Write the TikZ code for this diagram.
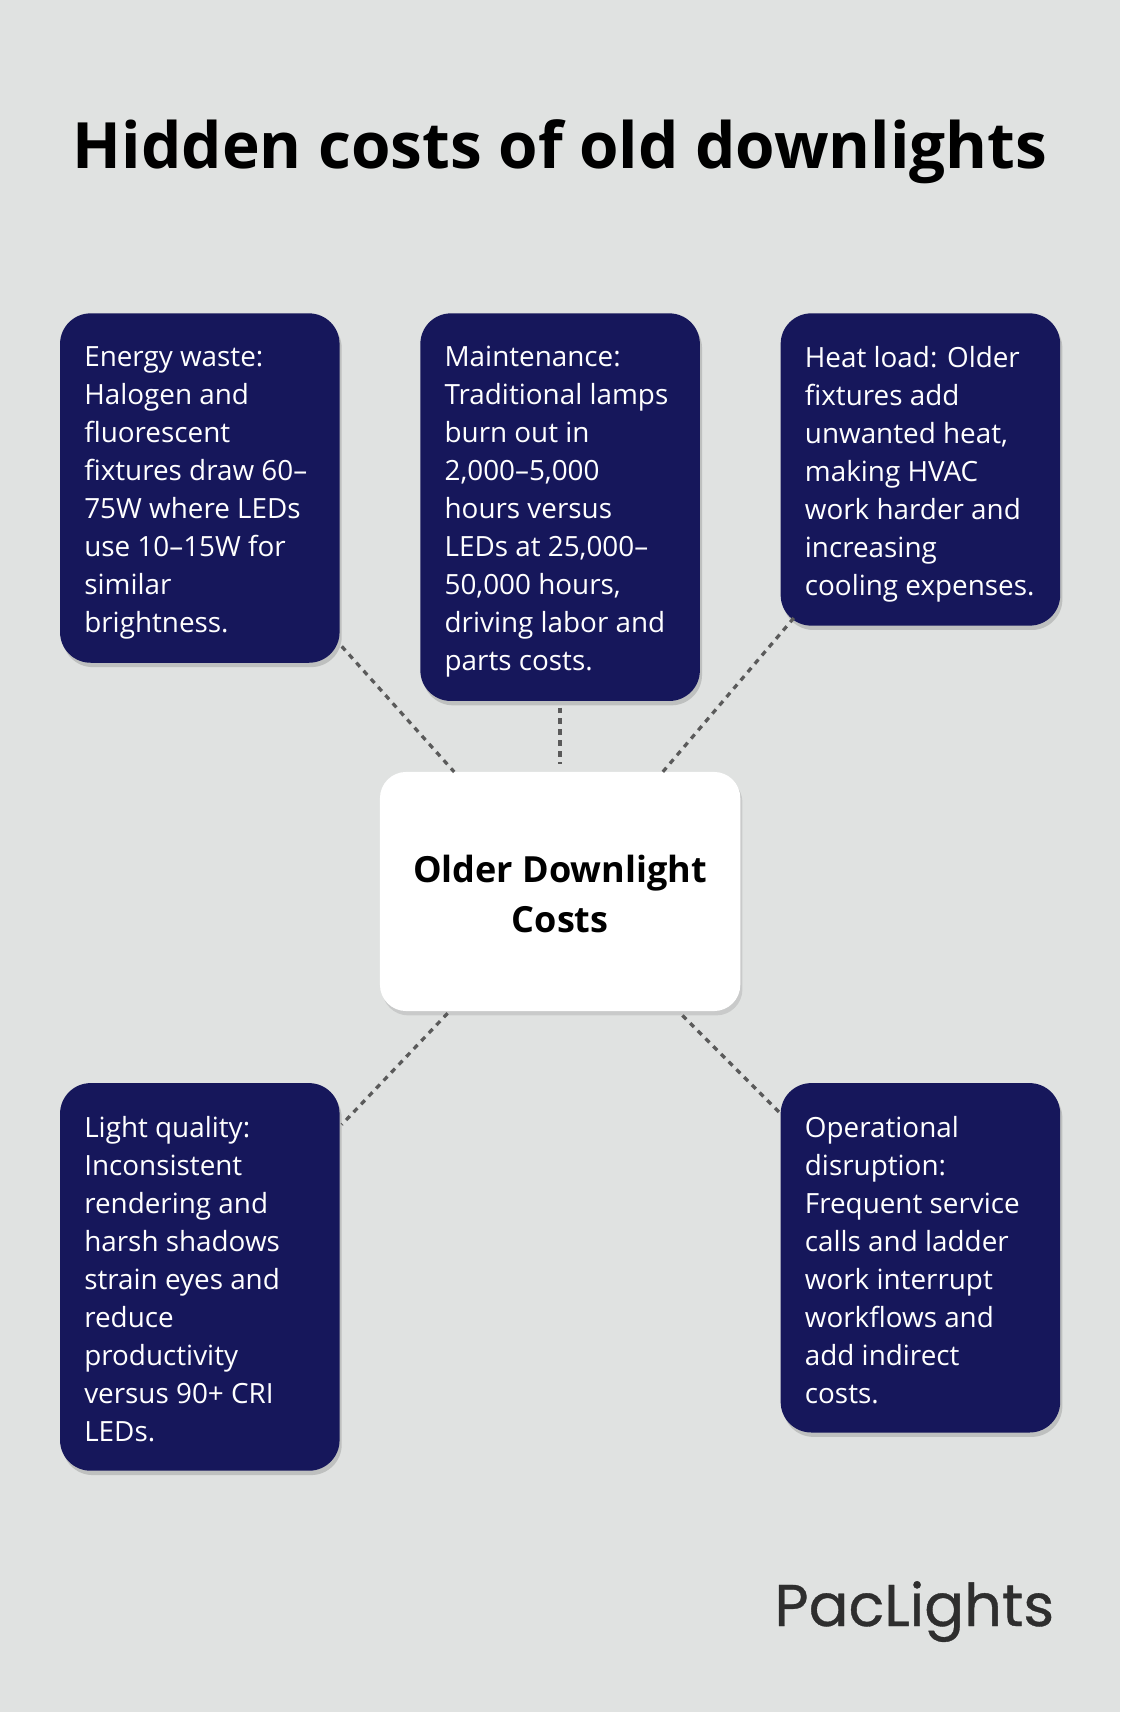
\documentclass[tikz,border=0pt]{standalone}
\usepackage{fontspec}
\setmainfont{Open Sans}
\newfontfamily\logofont{Poppins}[FakeBold=0.6]
\usetikzlibrary{shadows}
\definecolor{bg}{HTML}{E0E2E1}
\definecolor{navy}{HTML}{16175B}
\definecolor{dline}{HTML}{5A5A5A}
\tikzset{
 card/.style={fill=navy, rounded corners=28pt, drop shadow={shadow xshift=2pt,shadow yshift=-4pt,opacity=0.15,fill=black}},
 ctext/.style={anchor=north west, text=white, align=left, inner sep=0pt, font=\fontsize{25.5}{34.8}\selectfont},
 conn/.style={draw=dline, line width=3pt, dash pattern=on 5pt off 5pt}
}
\begin{document}
\begin{tikzpicture}[x=1pt,y=-1pt]
\fill[bg] (0,0) rectangle (1026,1568);
\useasboundingbox (0,0) rectangle (1026,1568);
\node[font=\fontsize{58.5}{62}\selectfont\bfseries] (title) at (513,139) {Hidden costs of old downlights};
% cards
\path[card] (55,287) rectangle (311,607);
\path[card] (385,287) rectangle (641,642);
\path[card] (715,287) rectangle (971,573);
\path[card] (55,992) rectangle (311,1347);
\path[card] (715,992) rectangle (971,1312);
\path[fill=white, rounded corners=24pt, drop shadow={shadow xshift=2pt,shadow yshift=-4pt,opacity=0.1,fill=black}] (348,707) rectangle (678,926);
\node[ctext] (a) at (77,317) {Energy waste:\\Halogen and\\fluorescent\\fixtures draw 60–\\75W where LEDs\\use 10–15W for\\similar\\brightness.};
\node[ctext] (b) at (407,317) {Maintenance:\\Traditional lamps\\burn out in\\2,000–5,000\\hours versus\\LEDs at 25,000–\\50,000 hours,\\driving labor and\\parts costs.};
\node[ctext] (c) at (737,317) {Heat load: Older\\fixtures add\\unwanted heat,\\making HVAC\\work harder and\\increasing\\cooling expenses.};
\node[ctext] (d) at (77,1022) {Light quality:\\Inconsistent\\rendering and\\harsh shadows\\strain eyes and\\reduce\\productivity\\versus 90+ CRI\\LEDs.};
\node[ctext] (e) at (737,1022) {Operational\\disruption:\\Frequent service\\calls and ladder\\work interrupt\\workflows and\\add indirect\\costs.};
\node[align=center, font=\fontsize{33}{46}\selectfont\bfseries] (center) at (513,819) {Older Downlight\\Costs};
\coordinate (a1) at (313,592); \coordinate (a2) at (416,707);
\coordinate (b1) at (513,648); \coordinate (b2) at (513,700);
\coordinate (c1) at (727,566); \coordinate (c2) at (607,707);
\coordinate (d1) at (410,928); \coordinate (d2) at (313,1030);
\coordinate (e1) at (625,930); \coordinate (e2) at (715,1020);
\draw[conn] (a1) -- (a2);
\draw[conn] (b1) -- (b2);
\draw[conn] (c1) -- (c2);
\draw[conn] (d1) -- (d2);
\draw[conn] (e1) -- (e2);
\node[anchor=east, text=black!82, font=\logofont\fontsize{54}{60}\selectfont] (logo) at (969,1476) {PacLights};
\end{tikzpicture}
\end{document}
